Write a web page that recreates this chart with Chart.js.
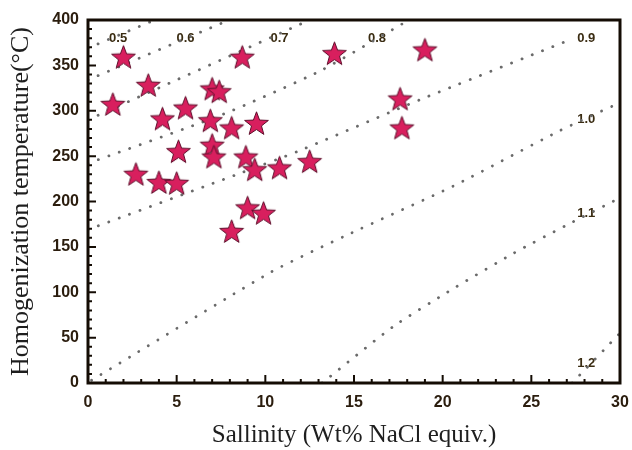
<!DOCTYPE html>
<html>
<head>
<meta charset="utf-8">
<script src="https://cdn.jsdelivr.net/npm/chart.js@4"></script>
<style>
  body { margin: 0; background: #fff; }
  #wrap { width: 632px; height: 450px; }
</style>
</head>
<body>
<div id="wrap"><canvas id="fluidChart" width="632" height="450"></canvas></div>
<script>
// inclusion data
const salinity = [2.0, 3.4, 1.4, 8.7, 13.9, 7.0, 7.4, 4.2, 5.5, 6.9, 8.1, 9.5, 5.1, 7.0, 7.1, 8.9, 9.4, 10.8, 12.5, 2.7, 4.0, 5.0, 9.0, 9.9, 8.1, 19.0, 17.6, 17.7];
const temperature = [359, 328, 307, 359, 363, 324, 321, 291, 303, 289, 281, 286, 255, 262, 249, 249, 235, 237, 244, 230, 221, 220, 193, 187, 167, 367, 313, 281];

// density isochores (g/cm3), [salinity, temperature] pairs
const iso05 = [[0, 369], [4, 402]];
const iso06 = [[0, 334], [8.2, 402]];
const iso07 = [[0, 290], [12.5, 400]];
const iso08 = [[0, 242], [7.6, 296], [13.1, 344], [18.1, 400]];
const iso09 = [[0, 169], [8.7, 232], [11.8, 255], [18.7, 312], [26.9, 376]];
const iso10 = [[0.2, 3], [10.3, 122], [14.6, 163], [20.6, 217], [26.6, 278], [30, 309]];
const iso11 = [[13.2, 0], [17.2, 62], [20.6, 104], [24.0, 143], [27.0, 174], [30, 204]];
const iso12 = [[27.3, 0], [30, 55]];

const isoNames = ['0.5', '0.6', '0.7', '0.8', '0.9', '1.0', '1.1', '1.2'];
const isoLabelX = [1.7, 5.5, 10.8, 16.3, 28.1, 28.1, 28.1, 28.1];
const isoLabelY = [380, 380, 380, 380, 380, 290, 187, 22];

const xTicks = [0, 5, 10, 15, 20, 25, 30];
const yTicks = [0, 50, 100, 150, 200, 250, 300, 350, 400];

// filled five point star used as the marker
function makeStar(size) {
  const c = document.createElement('canvas');
  c.width = size;
  c.height = size;
  const g = c.getContext('2d');
  const cx = size / 2, cy = size / 2 + 0.8;
  const outer = size / 2 - 1, inner = outer * 0.42;
  g.beginPath();
  for (let i = 0; i < 10; i++) {
    const r = i % 2 === 0 ? outer : inner;
    const a = -Math.PI / 2 + i * Math.PI / 5;
    const px = cx + r * Math.cos(a);
    const py = cy + r * Math.sin(a);
    if (i === 0) g.moveTo(px, py); else g.lineTo(px, py);
  }
  g.closePath();
  g.fillStyle = '#d81f5e';
  g.fill();
  g.lineWidth = 1;
  g.strokeStyle = '#5e0f2b';
  g.stroke();
  return c;
}

const toPoints = (arr) => arr.map((p) => ({ x: p[0], y: p[1] }));

function isoLine(arr) {
  return {
    type: 'line',
    data: toPoints(arr),
    borderColor: '#6a6a6a',
    borderWidth: 2.8,
    borderDash: [0.1, 11],
    borderCapStyle: 'round',
    pointRadius: 0,
    fill: false,
    tension: 0.2,
  };
}

// frame, inward ticks, isochore labels
const framePlugin = {
  id: 'frame',
  beforeDatasetsDraw(chart) {
    const { ctx, scales } = chart;
    ctx.save();
    ctx.font = 'bold 13px "Liberation Sans", Arial, sans-serif';
    ctx.fillStyle = '#3a2c12';
    ctx.textAlign = 'center';
    ctx.textBaseline = 'middle';
    isoNames.forEach((name, i) => {
      ctx.fillText(name, scales.x.getPixelForValue(isoLabelX[i]), scales.y.getPixelForValue(isoLabelY[i]));
    });
    ctx.restore();
  },
  afterDraw(chart) {
    const { ctx, chartArea: a, scales } = chart;
    ctx.save();
    ctx.strokeStyle = '#140c04';
    ctx.lineWidth = 2;
    ctx.beginPath();
    for (let v = 1; v < 30; v++) {
      const px = scales.x.getPixelForValue(v);
      const len = v % 5 === 0 ? 8 : 4;
      ctx.moveTo(px, a.bottom);
      ctx.lineTo(px, a.bottom - len);
    }
    for (let v = 10; v < 400; v += 10) {
      const py = scales.y.getPixelForValue(v);
      const len = v % 50 === 0 ? 8 : 4;
      ctx.moveTo(a.left, py);
      ctx.lineTo(a.left + len, py);
    }
    ctx.stroke();
    ctx.lineWidth = 3;
    ctx.strokeRect(a.left, a.top, a.right - a.left, a.bottom - a.top);
    ctx.restore();
  },
};

const tickFont = { family: '"Liberation Sans", Arial, sans-serif', size: 16, weight: 'bold' };

new Chart(document.getElementById('fluidChart'), {
  type: 'scatter',
  data: {
    datasets: [
      {
        data: salinity.map((s, i) => ({ x: s, y: temperature[i] })),
        pointStyle: makeStar(27),
        pointRadius: 13,
      },
      isoLine(iso05),
      isoLine(iso06),
      isoLine(iso07),
      isoLine(iso08),
      isoLine(iso09),
      isoLine(iso10),
      isoLine(iso11),
      isoLine(iso12),
    ],
  },
  options: {
    responsive: false,
    animation: false,
    events: [],
    layout: { autoPadding: false, padding: { top: 20, right: 12, left: 0, bottom: 0 } },
    plugins: { legend: { display: false }, tooltip: { enabled: false } },
    scales: {
      x: {
        type: 'linear',
        min: 0,
        max: 30,
        afterBuildTicks: (s) => { s.ticks = xTicks.map((v) => ({ value: v })); },
        afterFit: (s) => { s.height = 67; s.paddingLeft = 0; s.paddingRight = 0; },
        grid: { display: false, drawTicks: false },
        border: { display: false },
        ticks: { font: tickFont, color: '#2b1d0e', padding: 10, maxRotation: 0 },
        title: {
          display: true,
          text: 'Sallinity (Wt% NaCl equiv.)',
          font: { family: '"Liberation Serif", "Times New Roman", serif', size: 25 },
          color: '#1e1e1e',
          padding: { top: 0, bottom: 0 },
        },
      },
      y: {
        type: 'linear',
        min: 0,
        max: 400,
        afterBuildTicks: (s) => { s.ticks = yTicks.map((v) => ({ value: v })); },
        afterFit: (s) => { s.width = 88; s.paddingTop = 0; s.paddingBottom = 0; },
        grid: { display: false, drawTicks: false },
        border: { display: false },
        ticks: { font: tickFont, color: '#2b1d0e', padding: 9 },
        title: {
          display: true,
          text: 'Homogenization temperature(°C)',
          font: { family: '"Liberation Serif", "Times New Roman", serif', size: 26 },
          color: '#1e1e1e',
          padding: { top: 6, bottom: 0 },
        },
      },
    },
  },
  plugins: [framePlugin],
});
</script>
</body>
</html>
